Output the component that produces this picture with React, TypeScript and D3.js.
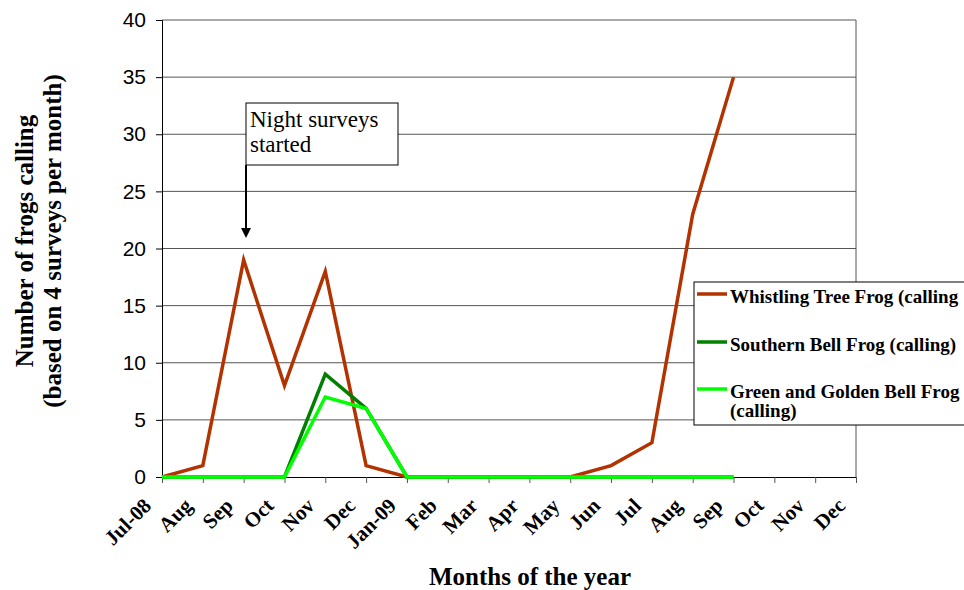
import { useEffect, useRef } from "react";
import * as d3 from "d3";

const months = ["Jul-08", "Aug", "Sep", "Oct", "Nov", "Dec", "Jan-09", "Feb", "Mar", "Apr", "May", "Jun", "Jul", "Aug", "Sep", "Oct", "Nov", "Dec"];
const whistling = [0, 1, 19, 8, 18, 1, 0, 0, 0, 0, 0, 1, 3, 23, 35];
const southernBell = [0, 0, 0, 0, 9, 6, 0, 0, 0, 0, 0, 0, 0, 0, 0];
const greenGolden = [0, 0, 0, 0, 7, 6, 0, 0, 0, 0, 0, 0, 0, 0, 0];
const yTicks = [0, 5, 10, 15, 20, 25, 30, 35, 40];

const seriesList = [
  { name: ["Whistling Tree Frog (calling"], values: whistling, color: "#b33300" },
  { name: ["Southern Bell Frog (calling)"], values: southernBell, color: "#008000" },
  { name: ["Green and Golden Bell Frog", "(calling)"], values: greenGolden, color: "#00ff00" },
];

const serif = "'Liberation Serif', 'Times New Roman', serif";
const sans = "'Liberation Sans', Arial, sans-serif";

export default function App() {
  const ref = useRef<SVGSVGElement | null>(null);

  useEffect(() => {
    if (!ref.current) return;
    ref.current.innerHTML = "";
    const svg = d3.select(ref.current);

    const left = 162, right = 856, top = 20, bottom = 477;

    const x = d3.scalePoint<number>().domain(d3.range(months.length)).range([left, right]);
    const y = d3.scaleLinear().domain([0, 40]).range([bottom, top]);

    // gridlines
    svg
      .append("g")
      .selectAll("line")
      .data(yTicks.filter((d) => d > 0))
      .join("line")
      .attr("x1", left)
      .attr("x2", right)
      .attr("y1", (d) => y(d))
      .attr("y2", (d) => y(d))
      .attr("stroke", "#555")
      .attr("stroke-width", 1);

    // right border of plot
    svg.append("line").attr("x1", right).attr("x2", right).attr("y1", top).attr("y2", bottom).attr("stroke", "#555");

    // Y axis
    const yAxis = svg
      .append("g")
      .attr("transform", `translate(${left},0)`)
      .call(d3.axisLeft(y).tickValues(yTicks).tickSize(6).tickPadding(10));
    yAxis.select(".domain").attr("stroke", "#000");
    yAxis.selectAll("text").attr("font-family", sans).attr("font-size", 21).attr("fill", "#000");

    // X axis
    const xAxis = svg
      .append("g")
      .attr("transform", `translate(0,${bottom})`)
      .call(d3.axisBottom(x).tickSize(6).tickFormat((i) => months[i as number]));
    xAxis.select(".domain").attr("stroke", "#000");
    xAxis.selectAll(".tick line").attr("stroke", "#555");
    xAxis
      .selectAll("text")
      .attr("font-family", serif)
      .attr("font-weight", "bold")
      .attr("font-size", 21)
      .attr("fill", "#000")
      .attr("text-anchor", "end")
      .attr("dy", null)
      .attr("y", 0)
      .attr("transform", "translate(-10,30) rotate(-45)");

    // lines
    const line = d3
      .line<number>()
      .x((_, i) => x(i)!)
      .y((d) => y(d));
    seriesList.forEach((s) => {
      svg
        .append("path")
        .datum(s.values)
        .attr("fill", "none")
        .attr("stroke", s.color)
        .attr("stroke-width", 3.5)
        .attr("stroke-linejoin", "miter")
        .attr("d", line);
    });

    // annotation
    const note = svg.append("g");
    note
      .append("rect")
      .attr("x", 246)
      .attr("y", 103)
      .attr("width", 152)
      .attr("height", 62)
      .attr("fill", "#fff")
      .attr("stroke", "#000");
    note
      .append("text")
      .attr("font-family", serif)
      .attr("font-size", 23)
      .selectAll("tspan")
      .data(["Night surveys", "started"])
      .join("tspan")
      .attr("x", 250)
      .attr("y", (_, i) => 127 + i * 25)
      .text((d) => d);
    note.append("line").attr("x1", 246).attr("x2", 246).attr("y1", 165).attr("y2", 229).attr("stroke", "#000").attr("stroke-width", 2);
    note.append("path").attr("d", "M241,228 L251,228 L246,238 Z").attr("fill", "#000");

    // legend
    const lg = svg.append("g");
    lg.append("rect").attr("x", 694).attr("y", 282).attr("width", 280).attr("height", 143).attr("fill", "#fff").attr("stroke", "#000");
    const rowY = [303, 351, 398];
    seriesList.forEach((s, i) => {
      lg.append("line")
        .attr("x1", 697)
        .attr("x2", 727)
        .attr("y1", rowY[i] - 9)
        .attr("y2", rowY[i] - 9)
        .attr("stroke", s.color)
        .attr("stroke-width", 3.5);
      lg.append("text")
        .attr("font-family", serif)
        .attr("font-weight", "bold")
        .attr("font-size", 19)
        .selectAll("tspan")
        .data(s.name)
        .join("tspan")
        .attr("x", 730)
        .attr("y", (_, j) => rowY[i] + j * 19)
        .text((d) => d);
    });

    // axis titles
    svg
      .append("text")
      .attr("transform", "translate(0,241) rotate(-90)")
      .attr("text-anchor", "middle")
      .attr("font-family", serif)
      .attr("font-weight", "bold")
      .attr("font-size", 25)
      .selectAll("tspan")
      .data(["Number of frogs calling", "(based on 4 surveys per month)"])
      .join("tspan")
      .attr("x", 0)
      .attr("y", (_, i) => 33 + i * 28)
      .text((d) => d);

    svg
      .append("text")
      .attr("x", 530)
      .attr("y", 585)
      .attr("text-anchor", "middle")
      .attr("font-family", serif)
      .attr("font-weight", "bold")
      .attr("font-size", 25)
      .text("Months of the year");
  }, []);

  return (
    <svg
      ref={ref}
      width={964}
      height={590}
      style={{ position: "absolute", left: 0, top: 0, background: "#fff" }}
    />
  );
}
